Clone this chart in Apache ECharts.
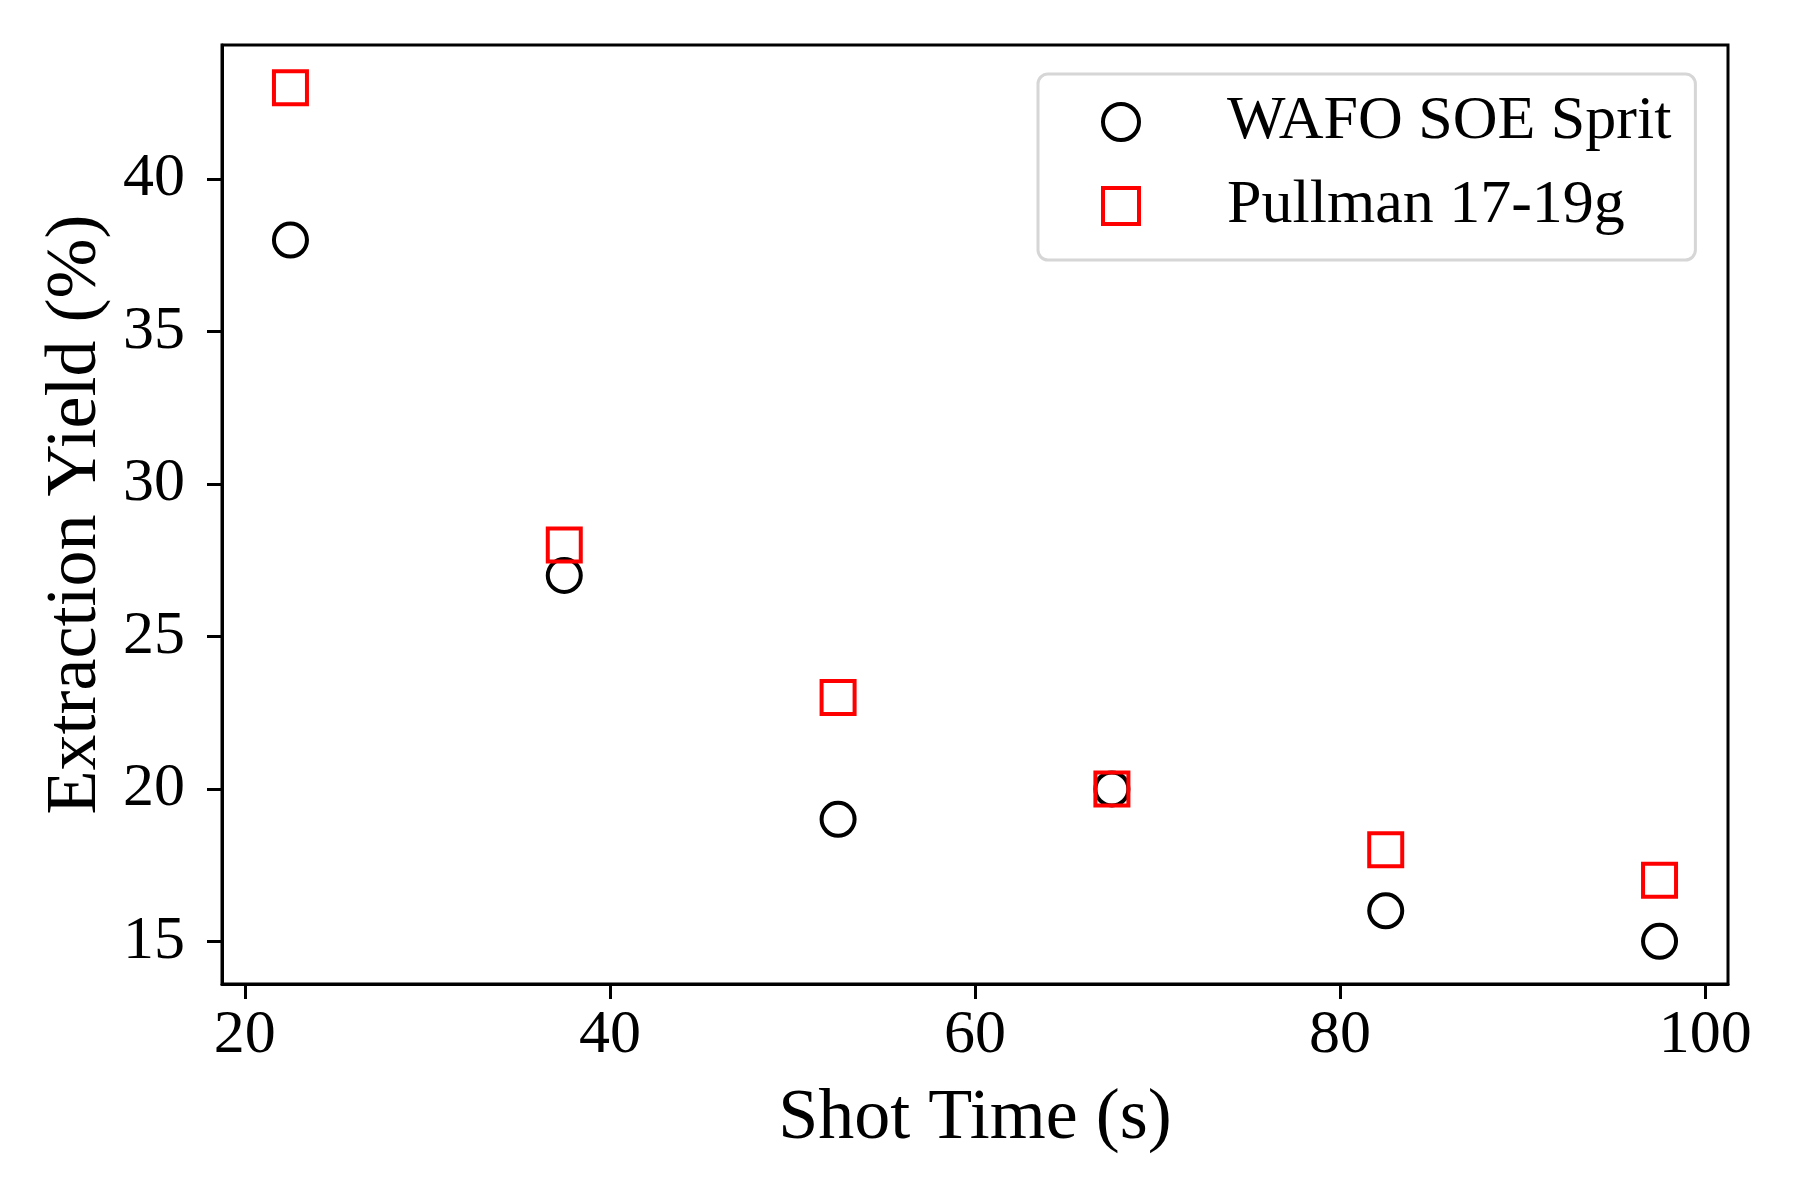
<!DOCTYPE html>
<html>
<head>
<meta charset="utf-8">
<title>Extraction Yield vs Shot Time</title>
<script src="https://cdn.jsdelivr.net/npm/echarts@6/dist/echarts.min.js"></script>
<style>
  html, body { margin: 0; padding: 0; background: #fff; }
  #chart { width: 1800px; height: 1200px; }
</style>
</head>
<body>
<div id="chart"></div>
<script>
// data
var shotTime = [22.5, 37.5, 52.5, 67.5, 82.5, 97.5];
var wafoYield = [38, 27, 19, 20, 16, 15];
var pullmanYield = [43, 28, 23, 20, 18, 17];
var xTicks = [20, 40, 60, 80, 100];
var yTicks = [15, 20, 25, 30, 35, 40];
var seriesNames = ['WAFO SOE Sprit', 'Pullman 17-19g'];

function pairs(xs, ys) {
  return xs.map(function (x, i) { return [x, ys[i]]; });
}

var font = '"Liberation Serif", "DejaVu Serif", serif';
var chart = echarts.init(document.getElementById('chart'));

var option = {
  backgroundColor: '#fff',
  animation: false,
  textStyle: { fontFamily: font },
  grid: {
    left: 222, right: 72, top: 45, bottom: 216,
    show: true, borderColor: '#000', borderWidth: 3, backgroundColor: 'transparent'
  },
  legend: {
    orient: 'vertical',
    left: 1038, top: 74,
    data: seriesNames,
    itemWidth: 36, itemHeight: 36, itemGap: 22,
    padding: [17, 24, 23, 63],
    backgroundColor: '#fff',
    borderColor: '#d6d6d6', borderWidth: 3, borderRadius: 10,
    itemStyle: { borderWidth: 4 },
    textStyle: {
      fontFamily: font, fontSize: 62, color: '#000',
      padding: [0, 0, 0, 83]
    }
  },
  xAxis: {
    type: 'value',
    min: 18.75, max: 101.25,
    name: 'Shot Time (s)',
    nameLocation: 'middle', nameGap: 99,
    nameTextStyle: { fontFamily: font, fontSize: 72, color: '#000' },
    axisLine: { show: true, lineStyle: { color: '#000', width: 3 } },
    axisTick: { show: true, length: 15, lineStyle: { color: '#000', width: 3 }, customValues: xTicks },
    axisLabel: { fontFamily: font, fontSize: 62, color: '#000', margin: 21, customValues: xTicks },
    splitLine: { show: false }
  },
  yAxis: {
    type: 'value',
    min: 13.6, max: 44.4,
    name: 'Extraction Yield (%)',
    nameLocation: 'middle', nameGap: 110,
    nameTextStyle: { fontFamily: font, fontSize: 72, color: '#000' },
    axisLine: { show: true, lineStyle: { color: '#000', width: 3 } },
    axisTick: { show: true, length: 15, lineStyle: { color: '#000', width: 3 }, customValues: yTicks },
    axisLabel: { fontFamily: font, fontSize: 62, color: '#000', margin: 37, customValues: yTicks },
    splitLine: { show: false }
  },
  series: [
    {
      name: seriesNames[0],
      type: 'scatter',
      symbol: 'circle',
      symbolSize: 33,
      data: pairs(shotTime, wafoYield),
      itemStyle: { color: 'transparent', borderColor: '#000', borderWidth: 4, opacity: 1 }
    },
    {
      name: seriesNames[1],
      type: 'scatter',
      symbol: 'rect',
      symbolSize: 33,
      data: pairs(shotTime, pullmanYield),
      itemStyle: { color: 'transparent', borderColor: '#ff0000', borderWidth: 4, opacity: 1 }
    }
  ]
};

chart.setOption(option);
</script>
</body>
</html>
